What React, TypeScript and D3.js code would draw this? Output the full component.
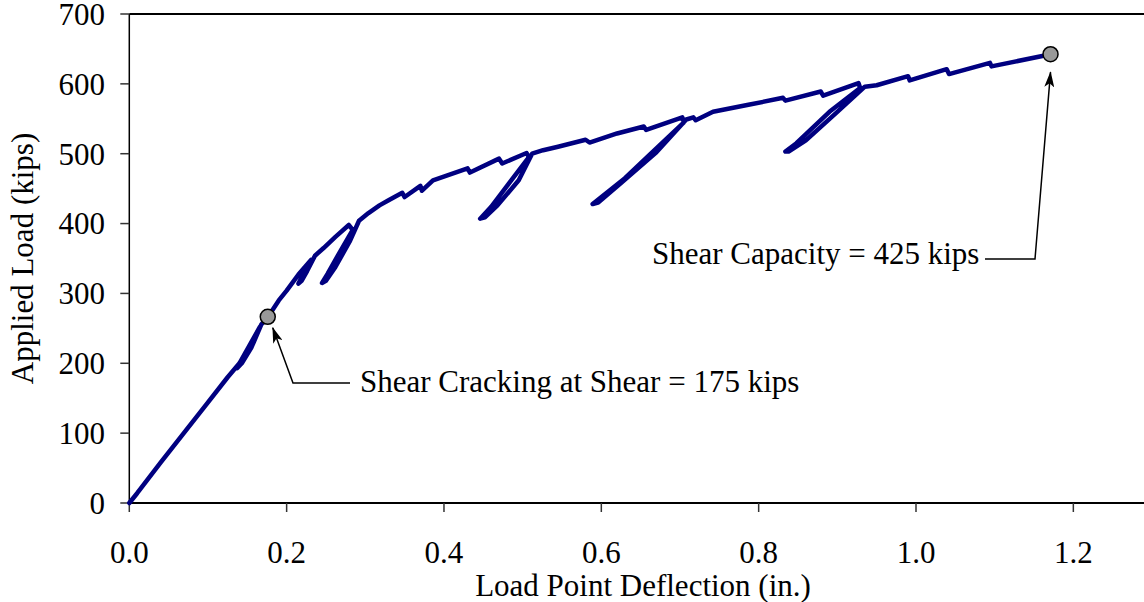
import * as d3 from "d3";

// load-deflection trace (in., kips)
const deflection = [
  0, 0.01, 0.04, 0.07, 0.1, 0.125, 0.14, 0.166, 0.163, 0.148, 0.137, 0.143,
  0.155, 0.168, 0.176, 0.19, 0.2, 0.215, 0.231, 0.229, 0.22, 0.215, 0.219,
  0.226, 0.236, 0.247, 0.262, 0.279, 0.284, 0.268, 0.252, 0.245, 0.25, 0.262,
  0.28, 0.292, 0.304, 0.318, 0.329, 0.347, 0.35, 0.37, 0.372, 0.386, 0.43,
  0.433, 0.47, 0.474, 0.505, 0.508, 0.485, 0.46, 0.446, 0.452, 0.468, 0.495,
  0.512, 0.526, 0.545, 0.58, 0.585, 0.62, 0.654, 0.657, 0.703, 0.705, 0.675,
  0.63, 0.589, 0.596, 0.625, 0.67, 0.708, 0.717, 0.72, 0.742, 0.787, 0.831,
  0.834, 0.879, 0.882, 0.927, 0.929, 0.89, 0.848, 0.834, 0.838, 0.86, 0.9,
  0.935, 0.95, 0.99, 0.992, 1.039, 1.042, 1.094, 1.096, 1.17,
];
const load = [
  0, 14, 58, 101, 144, 180, 200, 252, 245, 216, 193, 200, 222, 256, 266, 290,
  304, 327, 348, 342, 325, 314, 318, 332, 354, 365, 381, 398, 391, 360, 328,
  315, 318, 338, 374, 404, 415, 426, 433, 444, 438, 454, 447, 462, 479, 473,
  493, 486, 501, 495, 461, 424, 407, 409, 426, 462, 500, 505, 510, 520, 516,
  529, 539, 534, 552, 545, 513, 465, 428, 430, 458, 502, 549, 552, 548, 560,
  570, 580, 576, 589, 583, 601, 594, 560, 515, 503, 503, 519, 560, 596, 598,
  611, 605, 621, 614, 630, 625, 642,
];

const xTicks = [0, 0.2, 0.4, 0.6, 0.8, 1.0, 1.2];
const yTicks = [0, 100, 200, 300, 400, 500, 600, 700];

// annotated points and their labels
const markX = [0.176, 1.171];
const markY = [266.5, 642.5];
const noteText = ["Shear Cracking at Shear = 175 kips", "Shear Capacity = 425 kips"];

const W = 1144;
const H = 602;
const left = 129.3;
const top = 14;
const bottom = 503;
const font = "'Liberation Serif', 'Times New Roman', serif";

export default function App() {
  const x = d3.scaleLinear().domain([0, 1.4]).range([left, left + 1.4 * 786.7]);
  const y = d3.scaleLinear().domain([0, 700]).range([bottom, top]);

  const pts: [number, number][] = deflection.map((d, i) => [d, load[i]]);
  const line = d3
    .line<[number, number]>()
    .x((d) => x(d[0]))
    .y((d) => y(d[1]));

  // leader lines: marker -> elbow -> text
  const m0 = [x(markX[0]), y(markY[0])];
  const m1 = [x(markX[1]), y(markY[1])];
  const lead0 = `M350,383 L293,383 L${m0[0] + 5},${m0[1] + 11}`;
  const lead1 = `M985,259 L1035,259 L${m1[0]},${m1[1] + 18}`;

  return (
    <svg
      width={W}
      height={H}
      style={{ position: "absolute", left: 0, top: 0, background: "#fff" }}
      fontFamily={font}
    >
      <defs>
        <marker
          id="arr"
          viewBox="0 0 16 10"
          refX="15"
          refY="5"
          markerWidth="16"
          markerHeight="10"
          markerUnits="userSpaceOnUse"
          orient="auto"
        >
          <path d="M0,0 L16,5 L0,10 L4,5 Z" fill="#000" />
        </marker>
      </defs>

      {/* axes frame */}
      <line x1={left} x2={W} y1={top} y2={top} stroke="#000" strokeWidth={2} />
      <line x1={left} x2={left} y1={top} y2={bottom} stroke="#000" strokeWidth={1.5} />
      <line x1={left} x2={W} y1={bottom} y2={bottom} stroke="#000" strokeWidth={2} />

      {yTicks.map((t) => (
        <g key={"y" + t}>
          <line x1={left - 9} x2={left} y1={y(t)} y2={y(t)} stroke="#333" strokeWidth={1.5} />
          <text x={105} y={y(t)} dy="0.35em" textAnchor="end" fontSize={31}>
            {t}
          </text>
        </g>
      ))}
      {xTicks.map((t) => (
        <g key={"x" + t}>
          <line x1={x(t)} x2={x(t)} y1={bottom} y2={bottom + 9} stroke="#333" strokeWidth={1.5} />
          <text x={x(t)} y={563} textAnchor="middle" fontSize={31}>
            {t.toFixed(1)}
          </text>
        </g>
      ))}

      <text x={643} y={596} textAnchor="middle" fontSize={31}>
        Load Point Deflection (in.)
      </text>
      <text
        transform={`translate(33,${(top + bottom) / 2}) rotate(-90)`}
        textAnchor="middle"
        fontSize={31}
      >
        Applied Load (kips)
      </text>

      <path
        d={line(pts) ?? ""}
        fill="none"
        stroke="#000080"
        strokeWidth={4.5}
        strokeLinejoin="round"
        strokeLinecap="round"
      />

      <path d={lead0} fill="none" stroke="#000" strokeWidth={1.5} markerEnd="url(#arr)" />
      <path d={lead1} fill="none" stroke="#000" strokeWidth={1.5} markerEnd="url(#arr)" />

      {markX.map((mx, i) => (
        <circle key={i} cx={x(mx)} cy={y(markY[i])} r={7.5} fill="#999" stroke="#000" strokeWidth={1.5} />
      ))}

      <text x={360} y={392} fontSize={31}>
        {noteText[0]}
      </text>
      <text x={652} y={264} fontSize={31}>
        {noteText[1]}
      </text>
    </svg>
  );
}
